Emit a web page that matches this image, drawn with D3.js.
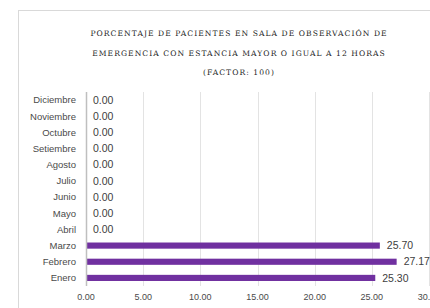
<!DOCTYPE html>
<html>
<head>
<meta charset="utf-8">
<script src="https://cdn.jsdelivr.net/npm/d3@7"></script>
<style>
  body { margin: 0; background: #fff; }
  svg { display: block; }
</style>
</head>
<body>
<div id="chart"></div>
<script>
const months = ["Enero", "Febrero", "Marzo", "Abril", "Mayo", "Junio", "Julio",
  "Agosto", "Setiembre", "Octubre", "Noviembre", "Diciembre"];
const values = [25.30, 27.17, 25.70, 0, 0, 0, 0, 0, 0, 0, 0, 0];
const xTicks = [0, 5, 10, 15, 20, 25, 30];
const titleLines = [
  "PORCENTAJE DE PACIENTES EN SALA DE OBSERVACIÓN DE",
  "EMERGENCIA CON ESTANCIA MAYOR O IGUAL A 12 HORAS",
  "(FACTOR: 100)"
];

const width = 430, height = 308;
const margin = { top: 92, left: 86, right: 1, bottom: 22 };

const svg = d3.select("#chart").append("svg")
  .attr("width", width)
  .attr("height", height);

// chart frame
svg.append("rect")
  .attr("x", 18.5).attr("y", 10.5)
  .attr("width", 440).attr("height", 320)
  .attr("fill", "none")
  .attr("stroke", "#d9d9d9");

svg.selectAll(".title")
  .data(titleLines)
  .enter()
  .append("text")
  .attr("class", "title")
  .attr("x", 239)
  .attr("y", (d, i) => 36 + i * 19.5)
  .attr("text-anchor", "middle")
  .attr("font-family", "DejaVu Serif, serif")
  .attr("font-size", "7.6px")
  .attr("letter-spacing", "1.05px")
  .attr("fill", "#262626")
  .text(d => d);

const x = d3.scaleLinear().domain([0, 30]).range([margin.left, width - margin.right]);
const y = d3.scaleBand()
  .domain(months.slice().reverse())
  .range([margin.top, height - margin.bottom])
  .paddingInner(0.62)
  .paddingOuter(0.31);

// gridlines
svg.selectAll(".grid")
  .data(xTicks.slice(1))
  .enter()
  .append("line")
  .attr("x1", d => Math.round(x(d)) + 0.5)
  .attr("x2", d => Math.round(x(d)) + 0.5)
  .attr("y1", margin.top)
  .attr("y2", height - margin.bottom)
  .attr("stroke", "#e3e3e3");

svg.selectAll(".bar")
  .data(values)
  .enter()
  .append("rect")
  .attr("x", x(0))
  .attr("y", (d, i) => y(months[i]))
  .attr("width", d => x(d) - x(0))
  .attr("height", y.bandwidth())
  .attr("fill", "#7030a0");

// vertical axis line
svg.append("line")
  .attr("x1", x(0) + 0.5).attr("x2", x(0) + 0.5)
  .attr("y1", margin.top).attr("y2", height - margin.bottom)
  .attr("stroke", "#bfbfbf")
  .attr("stroke-width", 1.5);

svg.selectAll(".cat")
  .data(months)
  .enter()
  .append("text")
  .attr("x", 76)
  .attr("y", d => y(d) + y.bandwidth() / 2)
  .attr("dy", "0.35em")
  .attr("text-anchor", "end")
  .attr("font-family", "Liberation Sans, sans-serif")
  .attr("font-size", "9.5px")
  .attr("fill", "#4a4a4a")
  .text(d => d);

svg.selectAll(".val")
  .data(values)
  .enter()
  .append("text")
  .attr("x", d => x(d) + 7)
  .attr("y", (d, i) => y(months[i]) + y.bandwidth() / 2)
  .attr("dy", "0.35em")
  .attr("font-family", "Liberation Sans, sans-serif")
  .attr("font-size", "10.5px")
  .attr("fill", "#404040")
  .text(d => d.toFixed(2));

svg.selectAll(".tick")
  .data(xTicks)
  .enter()
  .append("text")
  .attr("x", d => x(d))
  .attr("y", 300)
  .attr("text-anchor", "middle")
  .attr("font-family", "Liberation Sans, sans-serif")
  .attr("font-size", "9px")
  .attr("fill", "#4a4a4a")
  .text(d => d.toFixed(2));
</script>
</body>
</html>
